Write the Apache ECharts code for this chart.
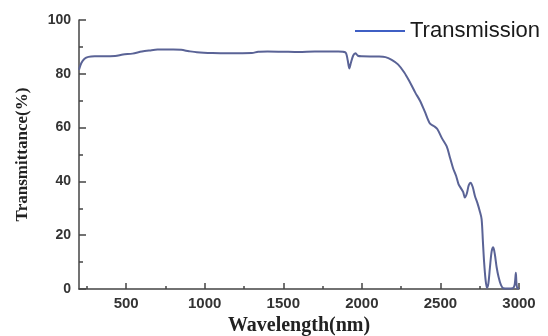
<!DOCTYPE html>
<html>
<head>
<meta charset="utf-8">
<script src="https://cdn.jsdelivr.net/npm/echarts@6/dist/echarts.min.js"></script>
<style>html,body{margin:0;padding:0;background:#fff}#c{width:548px;height:336px}</style>
</head>
<body>
<div id="c"></div>
<script>
var wavelength = [200,215,235,260,300,350,430,480,540,600,650,700,800,850,900,950,1050,1150,1300,1340,1400,1500,1600,1700,1850,1895,1910,1920,1930,1945,1960,1975,2000,2100,2150,2190,2230,2270,2300,2340,2370,2400,2433,2460,2480,2510,2540,2560,2580,2600,2615,2630,2645,2655,2668,2680,2692,2705,2720,2735,2750,2762,2770,2778,2788,2796,2805,2815,2826,2836,2846,2858,2870,2885,2900,2930,2960,2972,2980,2984,2990,3000];
var transmission = [81.5,84,85.6,86.3,86.5,86.5,86.6,87.2,87.5,88.3,88.7,89.0,89.0,88.9,88.4,88.0,87.7,87.6,87.7,88.2,88.3,88.2,88.1,88.3,88.3,88.0,85,82,84,86.8,87.6,86.7,86.5,86.4,86.2,85.2,83.5,80.5,77.5,73,70,66,61.5,60.5,59.5,56,53,49,45,42,39,37.5,36,34,35.5,38.5,39.5,38,34.5,32,29,26,18,10,3,0.5,2,8,14,15.5,13,8,4.5,1.5,0.3,0.2,0.3,1.5,6,2,0.3,0.3];
var xTicks = [500,1000,1500,2000,2500,3000];
var xMinorTicks = [250,750,1250,1750,2250,2750];
var yTicks = [0,20,40,60,80,100];

var pts = wavelength.map(function(w,i){return [w, transmission[i]];});
var axisColor = '#444';
var chart = echarts.init(document.getElementById('c'));
chart.setOption({
  animation:false,
  grid:{left:79,top:20,right:29,bottom:47, containLabel:false, outerBoundsMode:'none'},
  legend:{
    left:350, top:15,
    data:[{name:'Transmission', icon:'rect', itemStyle:{color:'#3f5fc4'}}],
    itemWidth:50, itemHeight:2,
    textStyle:{fontFamily:'Liberation Sans', fontSize:22, color:'#1a1a1a'}
  },
  xAxis:[{
    type:'value', min:200, max:3000, interval:50,
    name:'Wavelength(nm)', nameLocation:'middle', nameGap:27,
    nameTextStyle:{fontFamily:'Liberation Serif', fontWeight:'bold', fontSize:20, color:'#222'},
    axisLine:{lineStyle:{color:axisColor, width:1.5}},
    axisTick:{inside:true, length:6, customValues:xTicks, lineStyle:{color:axisColor, width:1.5}},
    splitLine:{show:false},
    axisLabel:{fontFamily:'Liberation Sans', fontWeight:'bold', fontSize:15, color:'#333', margin:7,
      customValues:xTicks, formatter:function(v){return String(v);}}
  },{
    type:'value', min:200, max:3000, interval:50, position:'bottom',
    axisLine:{show:false},
    axisTick:{show:true, inside:true, length:3, customValues:xMinorTicks, lineStyle:{color:axisColor, width:1.5}},
    axisLabel:{show:false},
    splitLine:{show:false}
  }],
  yAxis:{
    type:'value', min:0, max:100, interval:20,
    name:'Transmittance(%)', nameLocation:'middle', nameGap:48,
    nameTextStyle:{fontFamily:'Liberation Serif', fontWeight:'bold', fontSize:17, color:'#222'},
    axisLine:{show:true, lineStyle:{color:axisColor, width:1.5}},
    axisTick:{show:true, inside:true, length:7, lineStyle:{color:axisColor, width:1.5}},
    minorTick:{show:true, splitNumber:2, length:4, lineStyle:{color:axisColor, width:1.5}},
    splitLine:{show:false},
    axisLabel:{fontFamily:'Liberation Sans', fontWeight:'bold', fontSize:14, color:'#333', margin:8,
      formatter:function(v){return String(v);}}
  },
  series:[{
    name:'Transmission', type:'line', data:pts, showSymbol:false, smooth:0.3,
    lineStyle:{color:'#5a6396', width:2},
    itemStyle:{color:'#5a6396'}
  }]
});
</script>
</body>
</html>
